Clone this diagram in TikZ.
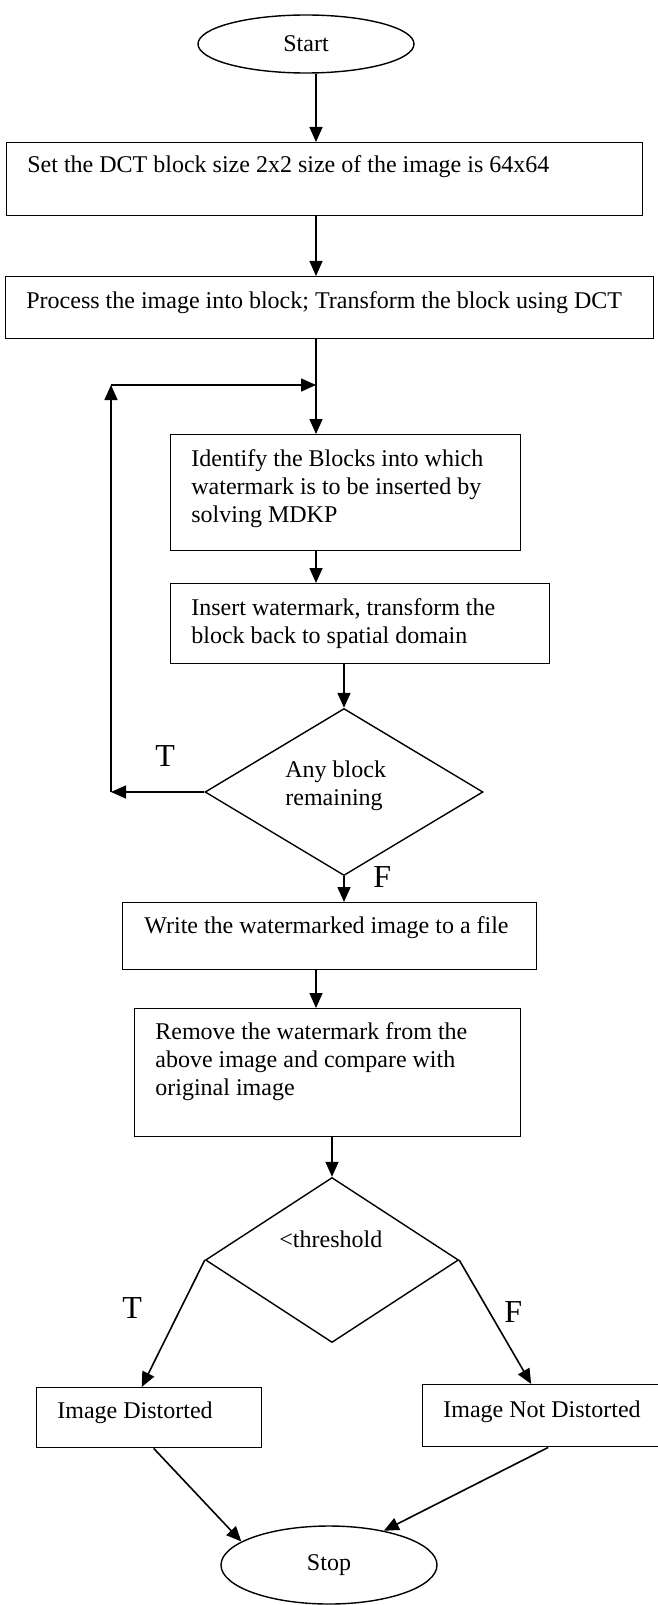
\documentclass[tikz,border=0pt]{standalone}
\usepackage{fontspec}
\setmainfont{Liberation Serif}
\usetikzlibrary{shapes.geometric,arrows.meta}

\begin{document}
\begin{tikzpicture}[x=0.5pt, y=-0.5pt,
            box/.style={draw, line width=0.7pt, rectangle, inner sep=0pt, anchor=north west},
            term/.style={draw, line width=0.7pt, ellipse, inner sep=0pt, font=\fontsize{12}{13.8}\selectfont},
            choice/.style={draw, line width=0.7pt, diamond, inner sep=0pt},
            txt/.style={anchor=base west, inner sep=0pt, align=left, font=\fontsize{12}{13.8}\selectfont},
            tf/.style={anchor=base west, inner sep=0pt, font=\fontsize{16}{19}\selectfont},
            arr/.style={-{Triangle[length=7.5pt,width=6.5pt]}, line width=0.8pt}]
            \useasboundingbox (0,0) rectangle (658,1605);

            \coordinate (colA) at (316,0);
            \coordinate (loopX) at (111,0);
            \coordinate (join) at (316,385);

            \node[term, minimum width=108pt, minimum height=29pt] (start) at (306,44) {Start};
            \node[box, minimum width=318pt, minimum height=36.5pt] (setbox) at (6,142) {};
            \node[box, minimum width=324pt, minimum height=31pt] (procbox) at (5,276) {};
            \node[box, minimum width=175pt, minimum height=58pt] (identbox) at (170,434) {};
            \node[box, minimum width=189.5pt, minimum height=40pt] (insbox) at (170,583) {};
            \node[choice, minimum width=139pt, minimum height=83.5pt] (anyblk) at (344,792) {};
            \node[box, minimum width=207pt, minimum height=33.5pt] (writebox) at (122,902) {};
            \node[box, minimum width=193pt, minimum height=64pt] (rembox) at (134,1008) {};
            \node[choice, minimum width=126.5pt, minimum height=82.5pt] (thr) at (332,1260) {};
            \node[box, minimum width=112.5pt, minimum height=30pt] (dist) at (36,1387) {};
            \node[box, minimum width=119pt, minimum height=31pt] (notdist) at (422,1384) {};
            \node[term, minimum width=108pt, minimum height=39pt] (stop) at (329,1565) {Stop};

            \node[txt] (set-t) at (27,173) {Set the DCT block size 2x2 size of the image is 64x64};
            \node[txt] (proc-t) at (26,308) {Process the image into block; Transform the block using DCT};
            \node[txt] (ident-t) at (191,522) {Identify the Blocks into which\\watermark is to be inserted by\\solving MDKP};
            \node[txt] (ins-t) at (191,643) {Insert watermark, transform the\\block back to spatial domain};
            \node[txt] (any-t) at (285,805) {Any block\\remaining};
            \node[txt] (write-t) at (144,933) {Write the watermarked image to a file};
            \node[txt] (rem-t) at (155,1095) {Remove the watermark from the\\above image and compare with\\original image};
            \node[txt] (thr-t) at (279,1247) {<threshold};
            \node[txt] (dist-t) at (57,1418) {Image Distorted};
            \node[txt] (notdist-t) at (443,1417) {Image Not Distorted};

            \node[tf] (t-any) at (155,766) {T};
            \node[tf] (f-any) at (373,887) {F};
            \node[tf] (t-thr) at (122,1318) {T};
            \node[tf] (f-thr) at (504,1322) {F};

            \draw[arr] (start.south -| colA) -- (setbox.north -| colA);
            \draw[arr] (setbox.south -| colA) -- (procbox.north -| colA);
            \draw[arr] (procbox.south -| colA) -- (identbox.north -| colA);
            \draw[arr] (identbox.south -| colA) -- (insbox.north -| colA);
            \draw[arr] (insbox.south -| anyblk.north) -- (anyblk.north);

            \draw[arr] (anyblk.west) -- (anyblk.west -| loopX);
            \draw[arr] (anyblk.west -| loopX) -- (join -| loopX);
            \draw[arr] (join -| loopX) -- (join);

            \draw[arr] (anyblk.south) -- (writebox.north -| anyblk.south);
            \draw[arr] (writebox.south -| colA) -- (rembox.north -| colA);
            \draw[arr] (rembox.south -| thr.north) -- (thr.north);

            \draw[arr] (thr.west) -- ([xshift=-3.75pt]dist.north);
            \draw[arr] (thr.east) -- ([xshift=-5.25pt]notdist.north);
            \draw[arr] ([xshift=2.25pt]dist.south) -- (stop.165);
            \draw[arr] ([xshift=3.25pt]notdist.south) -- (stop.32);
        \end{tikzpicture}
\end{document}
